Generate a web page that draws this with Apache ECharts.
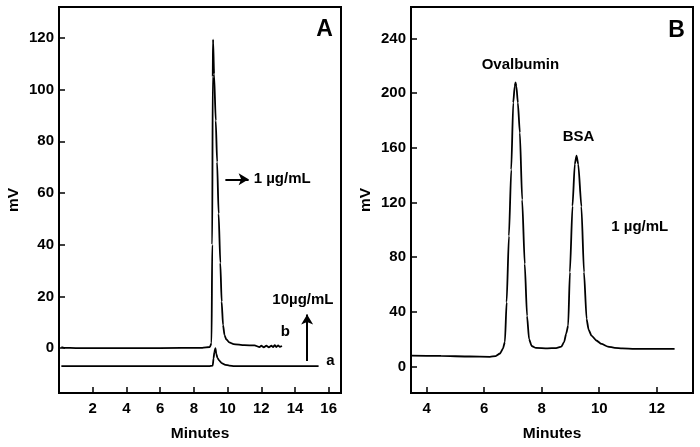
<!DOCTYPE html>
<html><head><meta charset="utf-8">
<script src="https://cdn.jsdelivr.net/npm/echarts@6/dist/echarts.min.js"></script>
<style>html,body{margin:0;padding:0;background:#fff}#c{width:700px;height:447px}</style>
</head><body><div id="c"></div>
<script>
// Panel A, trace b (1 µg/mL)
const aB_x = [0.14,0.3,1,3,6,8.5,8.95,9.05,9.09,9.12,9.14,9.2,9.3,9.38,9.47,9.57,9.65,9.73,9.82,9.92,10.1,10.36,11,11.6,11.9,12.0,12.15,12.3,12.45,12.6,12.7,12.8,12.9,13.0,13.1,13.23];
const aB_y = [0.4,0.1,0,0,0,0.1,0.4,2,40,105,119.4,106,88,72,52,33,18,9,5,3.4,2.2,1.5,1.1,1.0,0.4,0.9,0.3,0.9,0.3,0.9,0.4,1.1,0.4,1.0,0.5,0.8];
// Panel A, trace a (10 µg/mL)
const aA_x = [0.14,3,6,8.9,9.12,9.17,9.22,9.28,9.33,9.4,9.5,9.65,9.87,10.1,10.4,12,15.4];
const aA_y = [-7,-7,-7,-7,-6.8,-4,-1.5,0,-2.2,-3.8,-4.8,-5.8,-6.5,-6.8,-7,-7,-7];
// Panel B (Ovalbumin, BSA)
const b_x = [3.46,4.5,5.5,6.2,6.4,6.55,6.65,6.72,6.78,6.86,6.94,7.01,7.06,7.09,7.12,7.17,7.24,7.32,7.41,7.49,7.56,7.65,7.8,8.2,8.5,8.68,8.78,8.85,8.92,8.98,9.07,9.15,9.21,9.27,9.38,9.47,9.56,9.63,9.73,9.9,10.08,10.3,10.54,10.8,11.23,12.0,12.62];
const b_y = [8,7.7,7.3,7.1,7.6,9.5,13,18,47,95.5,144,193,205,207.8,205,193,171,122,75,37,20,15,13.6,13.3,13.5,14.5,18,24,30,69,117.3,148,154.3,148,117,69,34.8,27,22.6,19,16.5,14.6,13.6,13.2,12.9,12.9,12.9];

const aXTicks = [2,4,6,8,10,12,14,16];
const aYTicks = [0,20,40,60,80,100,120];
const bXTicks = [4,6,8,10,12];
const bYTicks = [0,40,80,120,160,200,240];

const zip = (xs, ys) => xs.map((x, i) => [x, ys[i]]);
const FONT = '"Liberation Sans", Arial, sans-serif';
const lab = {color:'#000', fontWeight:'bold', fontSize:15, fontFamily:FONT};

function xAx(idx, min, max, ticks) {
  return {type:'value', gridIndex:idx, min, max, name:'Minutes', nameLocation:'middle', nameGap:33,
    nameTextStyle:{color:'#000', fontWeight:'bold', fontSize:15.5, fontFamily:FONT},
    splitLine:{show:false}, axisLine:{show:true, onZero:false, lineStyle:{color:'#000', width:2}},
    axisTick:{show:true, inside:true, length:6, customValues:ticks, lineStyle:{color:'#000', width:1.5}},
    axisLabel:{...lab, margin:8, customValues:ticks}};
}
function yAx(idx, min, max, ticks) {
  return {type:'value', gridIndex:idx, min, max, name:'mV', nameLocation:'middle', nameGap:37,
    nameTextStyle:{color:'#000', fontWeight:'bold', fontSize:15.5, fontFamily:FONT},
    splitLine:{show:false}, axisLine:{show:true, onZero:false, lineStyle:{color:'#000', width:2}},
    axisTick:{show:true, inside:true, length:6, customValues:ticks, lineStyle:{color:'#000', width:1.5}},
    axisLabel:{...lab, margin:5, customValues:ticks}};
}
const line = {type:'line', showSymbol:false, symbol:'none', silent:true, smooth:0.2, smoothMonotone:'x',
  lineStyle:{color:'#000', width:1.8}, animation:false};

const chart = echarts.init(document.getElementById('c'), null, {renderer:'canvas'});
chart.setOption({
  animation:false,
  grid:[
    {left:59, top:7, width:282, height:387, show:true, borderColor:'#000', borderWidth:2, containLabel:false},
    {left:411, top:7, width:282, height:387, show:true, borderColor:'#000', borderWidth:2, containLabel:false}
  ],
  xAxis:[xAx(0, 0, 16.73, aXTicks), xAx(1, 3.455, 13.26, bXTicks)],
  yAxis:[yAx(0, -17.4, 132, aYTicks), yAx(1, -19.4, 263, bYTicks)],
  series:[
    {...line, xAxisIndex:0, yAxisIndex:0, data:zip(aB_x, aB_y)},
    {...line, xAxisIndex:0, yAxisIndex:0, data:zip(aA_x, aA_y),
      markLine:{silent:true, symbol:['none','arrow'], symbolSize:[9,10], label:{show:false},
        lineStyle:{color:'#000', width:2, type:'solid'},
        data:[[{coord:[9.87,65.3]},{coord:[11.25,65.3]}], [{coord:[14.72,-5]},{coord:[14.72,13]}]]}},
    {...line, xAxisIndex:1, yAxisIndex:1, data:zip(b_x, b_y)}
  ]
});

const notes = [
  {g:0, t:'A', x:15.75, y:123.2, s:23, a:'center'},
  {g:0, t:'1 µg/mL', x:11.55, y:65.3, s:15, a:'left'},
  {g:0, t:'10µg/mL', x:14.47, y:18.6, s:15, a:'center'},
  {g:0, t:'b', x:13.43, y:6.3, s:15, a:'center'},
  {g:0, t:'a', x:16.1, y:-4.9, s:15, a:'center'},
  {g:1, t:'B', x:12.69, y:246, s:23, a:'center'},
  {g:1, t:'Ovalbumin', x:7.26, y:220.6, s:15, a:'center'},
  {g:1, t:'BSA', x:9.28, y:168, s:15, a:'center'},
  {g:1, t:'1 µg/mL', x:11.41, y:101.8, s:15, a:'center'}
];
chart.setOption({graphic: notes.map(n => {
  const p = chart.convertToPixel({gridIndex:n.g}, [n.x, n.y]);
  return {type:'text', x:p[0], y:p[1], silent:true,
    style:{text:n.t, fill:'#000', font:'bold ' + n.s + 'px ' + FONT, textAlign:n.a, textVerticalAlign:'middle'}};
})});
</script></body></html>
